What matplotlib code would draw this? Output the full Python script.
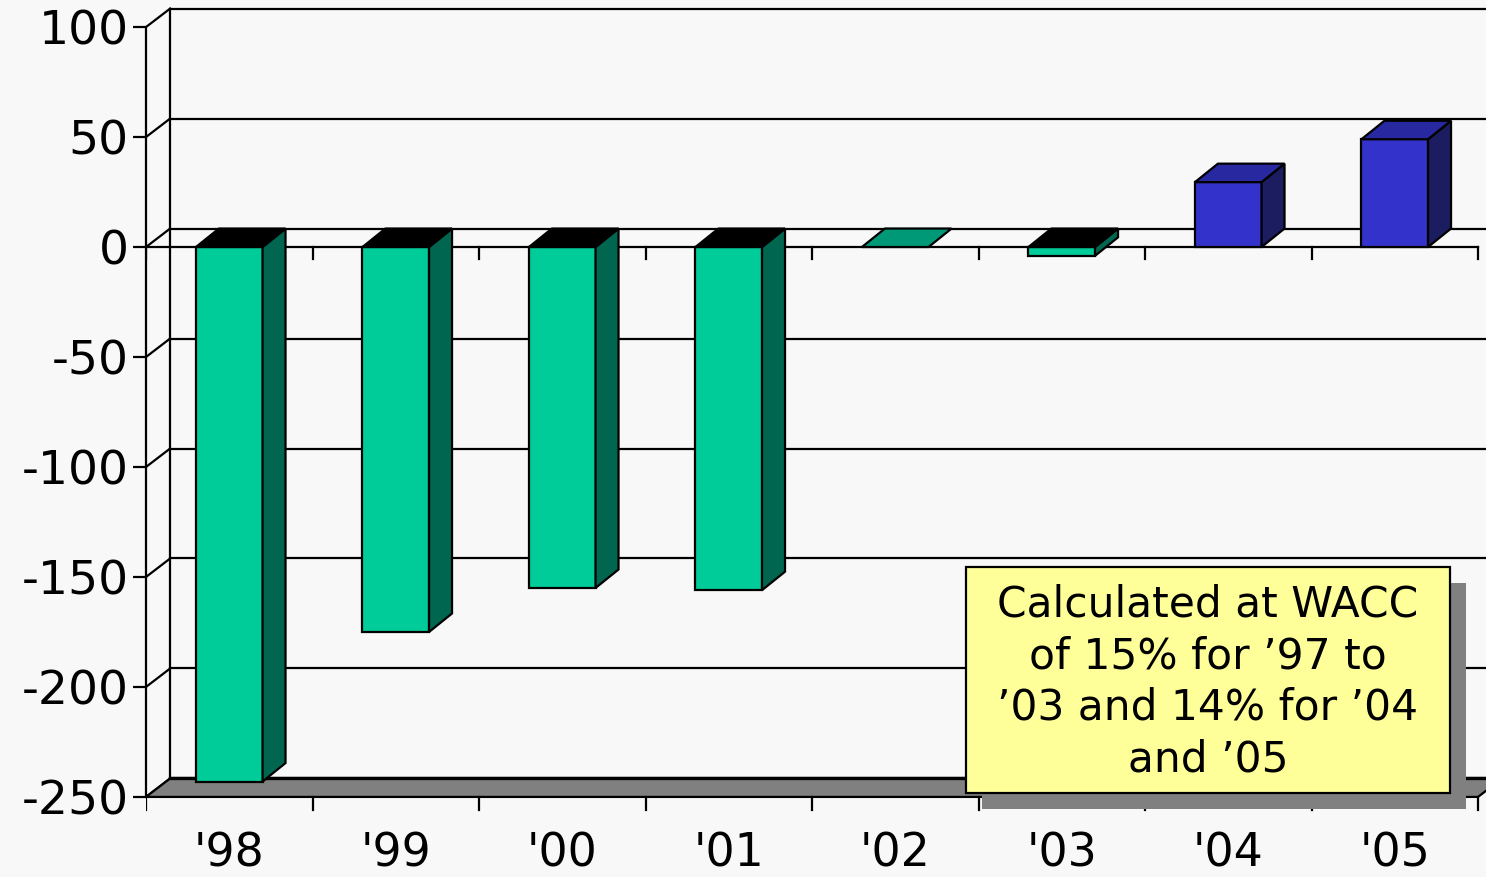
import matplotlib.pyplot as plt
from matplotlib.patches import Polygon, Rectangle

plt.rcParams['axes.unicode_minus'] = False

years = ["'98", "'99", "'00", "'01", "'02", "'03", "'04", "'05"]
values = [-243, -175, -155, -156, 0, -4, 29.5, 49]
y_ticks = [100, 50, 0, -50, -100, -150, -200, -250]
note = "Calculated at WACC\nof 15% for \u201997 to\n\u201903 and 14% for \u201904\nand \u201905"

bg = '#F8F8F8'
green = ('#00CC99', '#006650', '#000000')   # front, side, top
green_flat = '#009977'
blue = ('#3333CC', '#1C1C60', '#2828A0')

# depth of the box and bars, in data units
wall_dx, wall_dy = 0.145, 8.4
bar_dx, bar_dy = 0.138, 8.4
half_w = 0.2
lw = 1.6

fig = plt.figure(figsize=(14.86, 8.77), dpi=100, facecolor=bg)
ax = fig.add_axes([146 / 1486, 0, 1340 / 1486, 1])
ax.set_facecolor(bg)
ax.set_xlim(0, 1340 / 166.5)
ax.set_ylim(-286.4, 112.3)
for s in ['top', 'right', 'bottom']:
    ax.spines[s].set_visible(False)
ax.spines['left'].set_bounds(min(y_ticks), max(y_ticks))
ax.spines['left'].set_linewidth(lw)
ax.spines['left'].set_zorder(5)

ax.set_xticks([])
ax.set_yticks(y_ticks)
ax.set_yticklabels([str(t) for t in y_ticks])
ax.tick_params(axis='y', length=9.4, width=lw, pad=3, labelsize=34)

n = len(years)
ymin, ymax = min(y_ticks), max(y_ticks)

# back wall: gridlines, side diagonals, left edge
for t in y_ticks:
    ax.plot([wall_dx, n + wall_dx], [t + wall_dy] * 2, color='black', lw=lw, zorder=1)
    ax.plot([0, wall_dx], [t, t + wall_dy], color='black', lw=lw, zorder=1)
ax.plot([wall_dx, wall_dx], [ymin + wall_dy, ymax + wall_dy], color='black', lw=lw, zorder=1)

# floor
floor = Polygon([(0, ymin), (n, ymin), (n + wall_dx, ymin + wall_dy), (wall_dx, ymin + wall_dy)],
                closed=True, facecolor='#808080', edgecolor='black', lw=lw, zorder=2)
ax.add_patch(floor)
ax.plot([wall_dx, n + wall_dx], [ymin + wall_dy] * 2, color='black', lw=lw + 0.8, zorder=2)

# category axis at zero
ax.plot([0, n], [0, 0], color='black', lw=lw, zorder=2)

# tick marks on the category axis and below the floor
for i in range(n + 1):
    ax.plot([i, i], [0, -5.5], color='black', lw=lw, zorder=2)
    ax.plot([i, i], [ymin, ymin - 6], color='black', lw=lw, zorder=2)

# bars
for i, v in enumerate(values):
    c = i + 0.5
    x0, x1 = c - half_w, c + half_w
    front, side, top = blue if v > 0 else green
    if v == 0:
        top = green_flat
    else:
        ax.add_patch(Polygon([(x0, 0), (x1, 0), (x1, v), (x0, v)], closed=True,
                             facecolor=front, edgecolor='black', lw=lw, zorder=3))
        ax.add_patch(Polygon([(x1, 0), (x1 + bar_dx, bar_dy), (x1 + bar_dx, v + bar_dy), (x1, v)],
                             closed=True, facecolor=side, edgecolor='black', lw=lw, zorder=3))
    h = max(v, 0)
    ax.add_patch(Polygon([(x0, h), (x1, h), (x1 + bar_dx, h + bar_dy), (x0 + bar_dx, h + bar_dy)],
                         closed=True, facecolor=top, edgecolor='black', lw=lw, zorder=3))

# category labels
for i, lab in enumerate(years):
    ax.text(i + 0.5, -281.5, lab, ha='center', va='baseline', fontsize=33)

# note box with drop shadow
fig.patches.append(Rectangle((982 / 1486, 1 - 809 / 877), 484 / 1486, 226 / 877,
                             transform=fig.transFigure, facecolor='#808080',
                             edgecolor='none', zorder=6))
fig.patches.append(Rectangle((966 / 1486, 1 - 793 / 877), 484 / 1486, 226 / 877,
                             transform=fig.transFigure, facecolor='#FFFF99',
                             edgecolor='black', lw=lw, zorder=7))
fig.text(1208 / 1486, 1 - 682 / 877, note, ha='center', va='center',
         multialignment='center', fontsize=30.5, linespacing=1.3, zorder=8)

fig.savefig('out.png', dpi=100, facecolor=bg)
